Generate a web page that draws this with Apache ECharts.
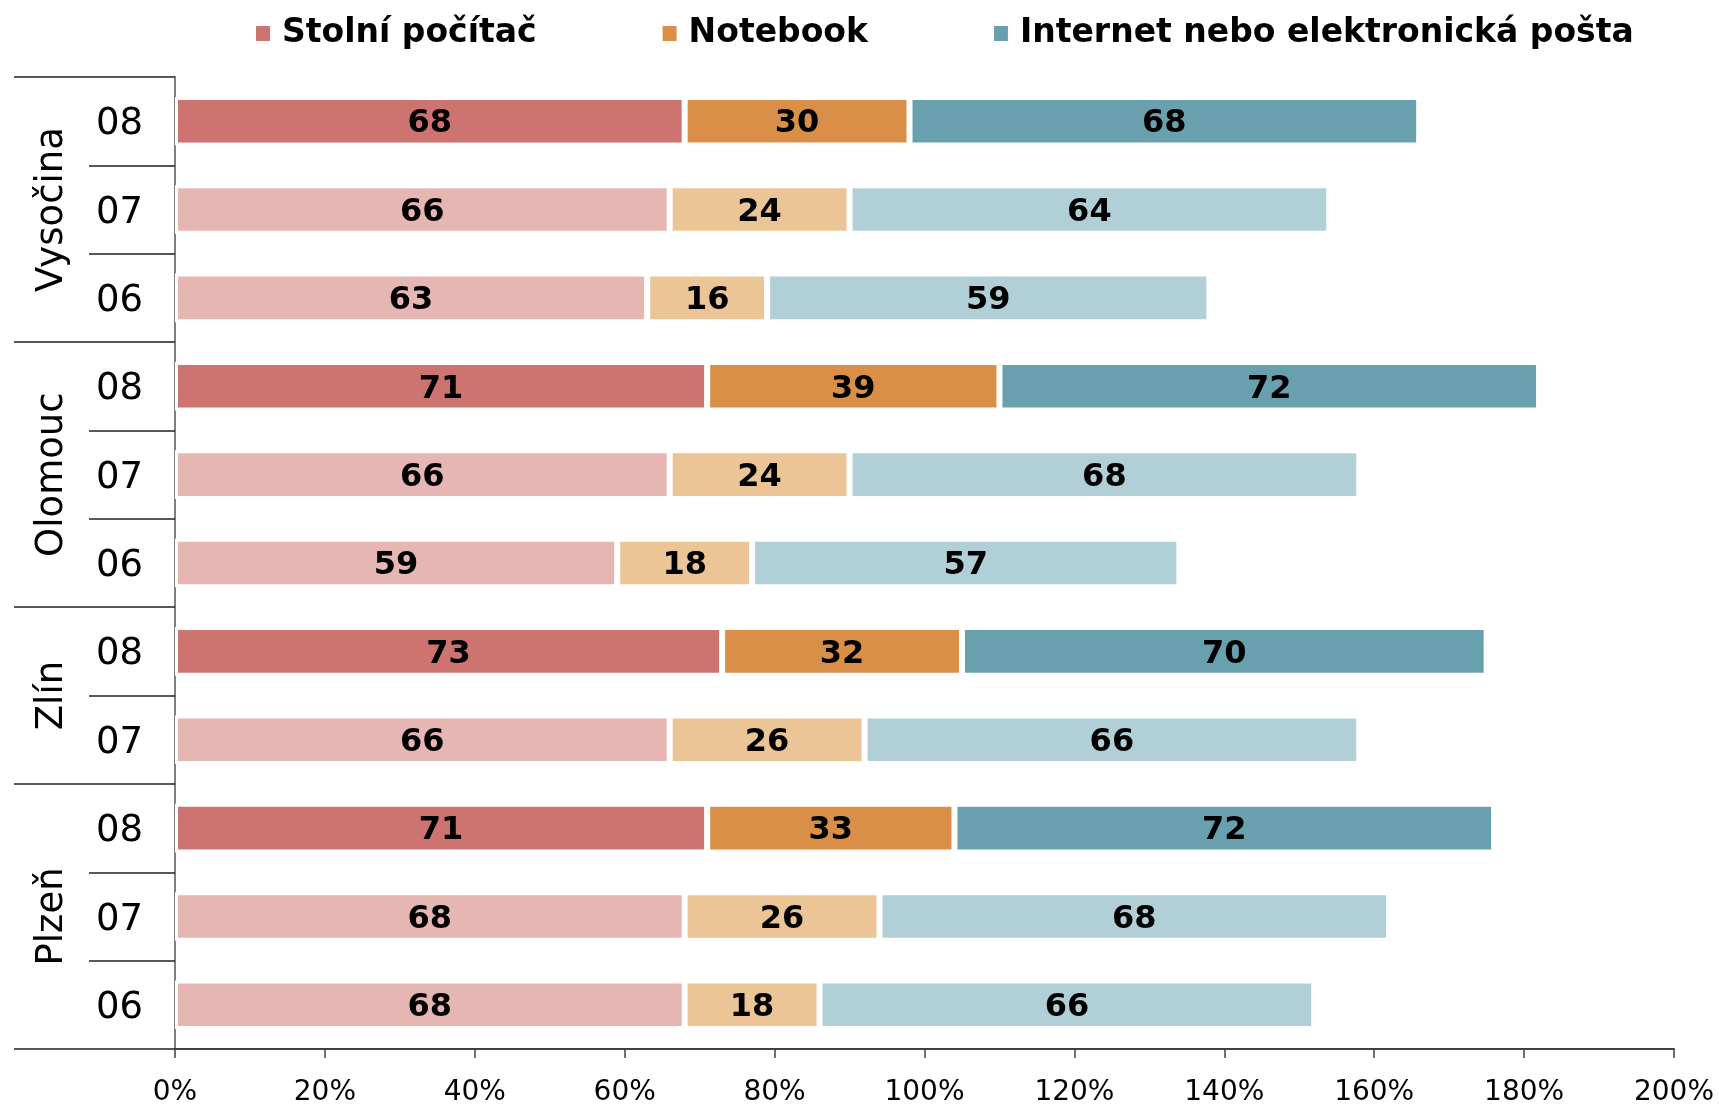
<!DOCTYPE html>
<html>
<head>
<meta charset="utf-8">
<script src="https://cdn.jsdelivr.net/npm/echarts@6/dist/echarts.min.js"></script>
<style>
html,body{margin:0;padding:0;background:#fff;}
#chart{width:1719px;height:1107px;}
</style>
</head>
<body>
<div id="chart"></div>
<script>
// ---- data ----
const regions = ['Vysočina', 'Olomouc', 'Zlín', 'Plzeň'];
const regionYears = [['08','07','06'], ['08','07','06'], ['08','07'], ['08','07','06']];
const seriesNames = ['Stolní počítač', 'Notebook', 'Internet nebo elektronická pošta'];
// rows top to bottom: Vysočina 08,07,06 | Olomouc 08,07,06 | Zlín 08,07 | Plzeň 08,07,06
const desktop  = [68, 66, 63, 71, 66, 59, 73, 66, 71, 68, 68];
const notebook = [30, 24, 16, 39, 24, 18, 32, 26, 33, 26, 18];
const internet = [68, 64, 59, 72, 68, 57, 70, 66, 72, 68, 66];
const xTicks = [0, 20, 40, 60, 80, 100, 120, 140, 160, 180, 200];

// ---- styles ----
const darkColors  = ['#CD7370', '#DA8F48', '#69A0AE'];
const lightColors = ['#E6B6B2', '#ECC596', '#B1CFD6'];
const FONT = 'DejaVu Sans';

// derived categories
const rowYears = [];
regionYears.forEach(ys => ys.forEach(y => rowYears.push(y)));
const nRows = rowYears.length;
// region axis: 2*nRows+1 slots with boundaryGap false -> positions on half rows
const regionSlots = new Array(2 * nRows + 1).fill('');
const boundaryIdx = [0];
const labelIdx = [];
let acc = 0;
regionYears.forEach((ys, i) => {
  const start = acc;
  acc += ys.length;
  regionSlots[start + acc] = regions[i];
  labelIdx.push(start + acc);
  boundaryIdx.push(2 * acc);
});

const values = [desktop, notebook, internet];
const series = values.map((arr, s) => ({
  name: seriesNames[s],
  type: 'bar',
  stack: 'total',
  barWidth: '55%',
  yAxisIndex: 0,
  color: darkColors[s],
  data: arr.map((v, i) => ({
    value: v,
    itemStyle: { color: rowYears[i] === '08' ? darkColors[s] : lightColors[s] }
  })),
  itemStyle: { borderColor: '#fff', borderWidth: 3 },
  label: {
    show: true,
    position: 'inside',
    color: '#000',
    fontFamily: FONT,
    fontWeight: 'bold',
    fontSize: 32,
    verticalAlign: 'top',
    lineHeight: 6
  },
  emphasis: { disabled: true }
}));

const chart = echarts.init(document.getElementById('chart'));
chart.setOption({
  animation: false,
  backgroundColor: '#fff',
  legend: {
    data: seriesNames,
    left: 249,
    top: 12,
    icon: 'rect',
    itemWidth: 16,
    itemHeight: 17,
    itemGap: 124,
    textStyle: { fontFamily: FONT, fontWeight: 'bold', fontSize: 33, color: '#000', padding: [0, 0, 0, 6] },
    selectedMode: false
  },
  grid: { left: 175, right: 45, top: 77, bottom: 55, containLabel: false },
  xAxis: {
    type: 'value',
    min: 0, max: 200, interval: 20,
    axisLine: { show: true, lineStyle: { color: '#404040', width: 2 } },
    axisTick: { show: true, length: 9, lineStyle: { color: '#404040', width: 1.5 } },
    splitLine: { show: false },
    axisLabel: {
      fontFamily: FONT, fontSize: 28, color: '#000', margin: 30,
      formatter: v => xTicks.includes(v) ? v + '%' : ''
    }
  },
  yAxis: [
    {
      type: 'category',
      inverse: true,
      data: rowYears,
      axisLine: { show: true, lineStyle: { color: '#7f7f7f', width: 2 } },
      axisTick: { show: true, length: 86, interval: 0, lineStyle: { color: '#222', width: 1.5 } },
      axisLabel: { fontFamily: FONT, fontSize: 37, color: '#000', margin: 32, interval: 0, verticalAlign: 'top', lineHeight: 7 },
      splitLine: { show: false }
    },
    {
      type: 'category',
      inverse: true,
      boundaryGap: false,
      position: 'left',
      data: regionSlots,
      axisLine: { show: false },
      axisTick: {
        show: true, length: 161,
        interval: (idx) => boundaryIdx.includes(idx),
        lineStyle: { color: '#222', width: 1.5 }
      },
      axisLabel: {
        fontFamily: FONT, fontSize: 37, color: '#000', margin: 104, rotate: 90,
        interval: (idx) => labelIdx.includes(idx)
      },
      splitLine: { show: false }
    }
  ],
  series: series
});
</script>
</body>
</html>
